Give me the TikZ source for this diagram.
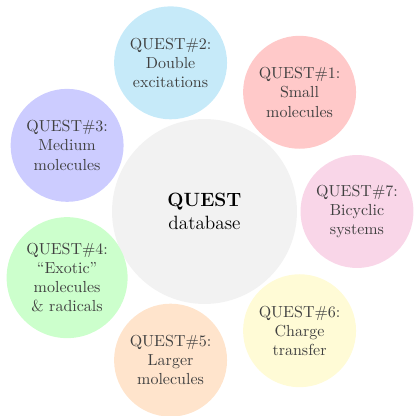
\documentclass[tikz,border=0pt]{standalone}
\usetikzlibrary{positioning,calc}
\definecolor{cblue}{RGB}{198,234,249}
\definecolor{cred}{RGB}{255,201,201}
\definecolor{cpurple}{RGB}{204,204,255}
\definecolor{cpink}{RGB}{249,214,232}
\definecolor{cgreen}{RGB}{204,255,204}
\definecolor{corange}{RGB}{255,228,204}
\definecolor{cyellow}{RGB}{255,251,214}
\definecolor{ccenter}{RGB}{242,242,242}
\begin{document}
\begin{tikzpicture}[x=0.625pt,y=0.625pt,
  sat/.style={circle,inner sep=0pt,minimum size=70.6pt,align=center,text=black!75},
  hub/.style={circle,inner sep=0pt,minimum size=115.6pt,align=center,fill=ccenter,font=\large}]
\useasboundingbox (0,0) rectangle (414,416);
\node[hub] (c) at (204.5,204.5) {\textbf{QUEST}\\database};
\node[sat,fill=cred]    (q1) at ($(c)+(51.43:152.5)$) {QUEST\#1:\\Small\\molecules};
\node[sat,fill=cblue]   (q2) at ($(c)+(102.86:152.5)$) {QUEST\#2:\\Double\\excitations};
\node[sat,fill=cpurple] (q3) at ($(c)+(154.29:152.5)$) {QUEST\#3:\\Medium\\molecules};
\node[sat,fill=cgreen,minimum size=75.6pt] (q4) at ($(c)+(205.71:152.5)$) {QUEST\#4:\\``Exotic''\\molecules\\\& radicals};
\node[sat,fill=corange] (q5) at ($(c)+(257.14:152.5)$) {QUEST\#5:\\Larger\\molecules};
\node[sat,fill=cyellow] (q6) at ($(c)+(308.57:152.5)$) {QUEST\#6:\\Charge\\transfer};
\node[sat,fill=cpink]   (q7) at ($(c)+(0:152.5)$) {QUEST\#7:\\Bicyclic\\systems};
\end{tikzpicture}
\end{document}
